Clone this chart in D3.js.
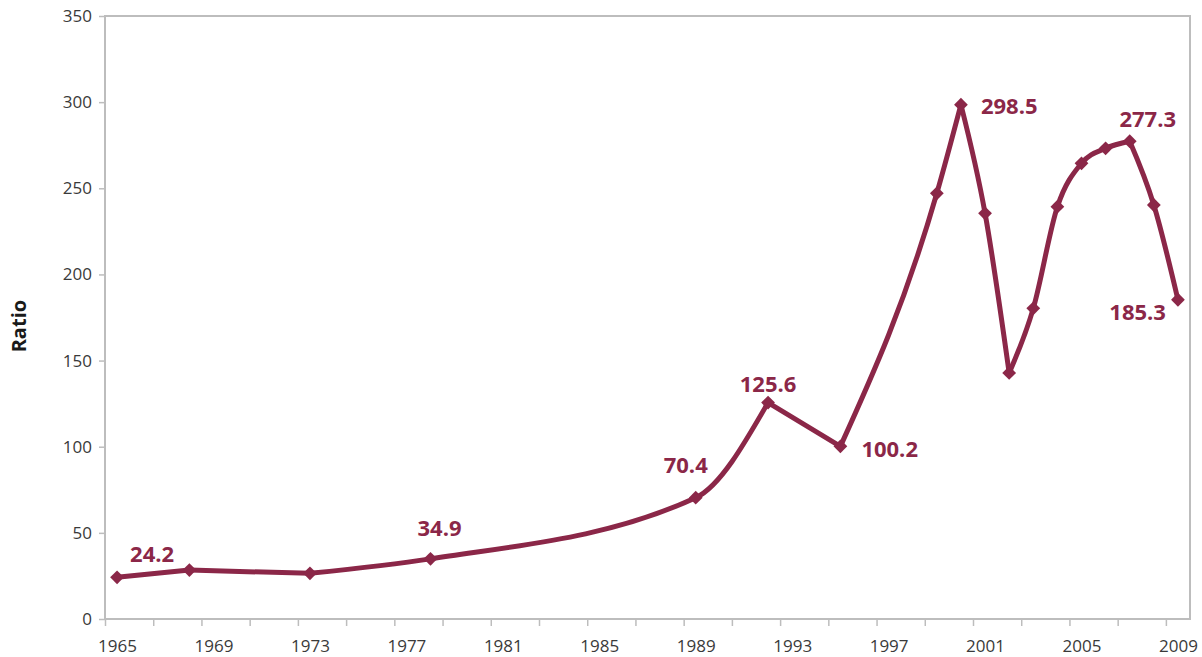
<!DOCTYPE html>
<html>
<head>
<meta charset="utf-8">
<script src="https://cdn.jsdelivr.net/npm/d3@7"></script>
<style>
  body { margin: 0; background: #fff; }
  svg { display: block; font-family: "Open Sans", sans-serif; }
</style>
</head>
<body>
<div id="canvas"></div>
<script>
// data
const years = [1965, 1968, 1973, 1978, 1989, 1992, 1995, 1999, 2000, 2001, 2002, 2003, 2004, 2005, 2006, 2007, 2008, 2009];
const ratios = [24.2, 28.4, 26.5, 34.9, 70.4, 125.6, 100.2, 247.1, 298.5, 235.5, 142.8, 180.3, 239.3, 264.5, 273.2, 277.3, 240.3, 185.3];
const labelYears = [1965, 1978, 1989, 1992, 1995, 2000, 2007, 2009];
const yTicks = [0, 50, 100, 150, 200, 250, 300, 350];
const xTickLabels = [1965, 1969, 1973, 1977, 1981, 1985, 1989, 1993, 1997, 2001, 2005, 2009];

// label placement relative to the point (dx, dy, anchor)
const labelPlace = {
  1965: [35, -15, "middle"],
  1978: [9, -23, "middle"],
  1989: [-10, -25, "middle"],
  1992: [0, -11, "middle"],
  1995: [21, 11, "start"],
  2000: [20, 9, "start"],
  2007: [18, -14, "middle"],
  2009: [-12, 20, "end"]
};

const lineColour = "#8b2748";
const axisColour = "#bdbdbd";
const fontFamily = "'Open Sans', sans-serif";

const margin = {top: 16, right: 12, bottom: 38, left: 105},
  width = 1202 - margin.left - margin.right,
  height = 657 - margin.top - margin.bottom;

const svg = d3.select("#canvas")
  .append("svg")
  .attr("width", 1202)
  .attr("height", 657);

const g = svg.append("g")
  .attr("transform", "translate(" + margin.left + "," + margin.top + ")");

// scales: one category per year, points in the middle of each category
const x = d3.scaleLinear()
  .domain([1964.5, 2009.5])
  .range([0, width]);

const y = d3.scaleLinear()
  .domain([0, 350])
  .range([height, 0]);

const points = years.map((d, i) => ({year: d, value: ratios[i]}));

// frame
g.append("rect")
  .attr("x", 0)
  .attr("y", 0)
  .attr("width", width)
  .attr("height", height)
  .attr("fill", "none")
  .attr("stroke", axisColour)
  .attr("stroke-width", 2);

// y axis
const yAxis = g.append("g")
  .call(d3.axisLeft(y).tickValues(yTicks).tickSize(6).tickPadding(7))
  .attr("font-family", fontFamily)
  .attr("font-size", 17);
yAxis.select(".domain").remove();
yAxis.selectAll(".tick line").attr("stroke", axisColour).attr("stroke-width", 1.5);
yAxis.selectAll(".tick text").attr("fill", "#3a3a3a");

// x axis tick marks between categories
const xMarks = g.append("g")
  .attr("transform", "translate(0," + height + ")")
  .call(d3.axisBottom(x).tickValues(d3.range(1964.5, 2009, 2)).tickSize(7).tickFormat(""));
xMarks.select(".domain").remove();
xMarks.selectAll(".tick line").attr("stroke", axisColour).attr("stroke-width", 1.5);

// x axis labels
const xLabels = g.append("g")
  .attr("transform", "translate(0," + height + ")")
  .call(d3.axisBottom(x).tickValues(xTickLabels).tickSize(0).tickPadding(21).tickFormat(d3.format("d")))
  .attr("font-family", fontFamily)
  .attr("font-size", 17);
xLabels.select(".domain").remove();
xLabels.selectAll(".tick text").attr("fill", "#3a3a3a");

// y title
svg.append("text")
  .attr("transform", "translate(26," + (margin.top + y(170)) + ") rotate(-90)")
  .attr("text-anchor", "middle")
  .attr("font-weight", "bold")
  .style("font-size", "20px")
  .attr("fill", "#1a1a1a")
  .text("Ratio");

// line: split into rising / falling runs so the turning points stay sharp
const runs = [];
let run = [points[0]];
for (let i = 1; i < points.length; i++) {
  run.push(points[i]);
  const next = points[i + 1];
  if (next && (points[i].value - points[i - 1].value) * (next.value - points[i].value) < 0) {
    runs.push(run);
    run = [points[i]];
  }
}
runs.push(run);

const line = d3.line()
  .curve(d3.curveMonotoneX)
  .x(d => x(d.year))
  .y(d => y(d.value));

g.selectAll(".run")
  .data(runs)
  .join("path")
  .attr("class", "run")
  .attr("fill", "none")
  .attr("stroke", lineColour)
  .attr("stroke-width", 5)
  .attr("stroke-linejoin", "round")
  .attr("stroke-linecap", "round")
  .attr("d", line);

// diamond markers
g.selectAll(".marker")
  .data(points)
  .join("path")
  .attr("class", "marker")
  .attr("fill", lineColour)
  .attr("d", d3.symbol(d3.symbolSquare, 95))
  .attr("transform", d => "translate(" + x(d.year) + "," + y(d.value) + ") rotate(45)");

// value labels
g.selectAll(".valueLabel")
  .data(points.filter(d => labelYears.includes(d.year)))
  .join("text")
  .attr("class", "valueLabel")
  .attr("x", d => x(d.year) + labelPlace[d.year][0])
  .attr("y", d => y(d.value) + labelPlace[d.year][1])
  .attr("text-anchor", d => labelPlace[d.year][2])
  .attr("font-weight", "bold")
  .style("font-size", "22px")
  .attr("fill", lineColour)
  .text(d => d.value.toFixed(1));
</script>
</body>
</html>
